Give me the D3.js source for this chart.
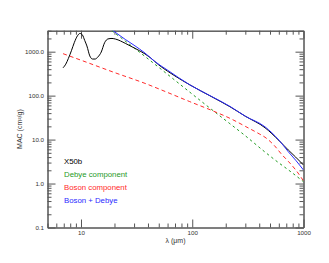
<!DOCTYPE html>
<html>
<head>
<meta charset="utf-8">
<script src="https://cdn.jsdelivr.net/npm/d3@7"></script>
<style>
  body { margin: 0; background: #fff; }
  svg { display: block; font-family: "Liberation Sans", Arial, sans-serif; }
  .axis path, .axis line { stroke: #555; }
  .axis text { fill: #333; font-size: 6.2px; }
</style>
</head>
<body>
<script>
// X50b measured curve
var lambdaX50b = [6.9, 7.3, 7.7, 8.2, 8.7, 9.3, 9.8, 10.3, 10.8, 11.3, 12.0, 12.7, 13.4, 14.2, 15.2, 16.3, 17.5, 19, 20.5, 25, 30, 37.6, 42, 50, 60, 70, 95, 150, 218, 300, 451, 600, 730, 850, 1000];
var macX50b = [430, 520, 700, 1050, 1600, 2300, 2600, 2400, 1800, 1350, 800, 680, 680, 760, 980, 1600, 1950, 2000, 1930, 1550, 1220, 890, 730, 500, 360, 280, 176, 94, 56, 34, 18.6, 9.6, 5.8, 4.0, 2.64];

// Debye component
var lambdaDebye = [18.9, 30, 50, 95, 150, 218, 300, 451, 600, 730, 1000];
var macDebye = [3000, 1220, 440, 120, 48, 23, 12.2, 5.2, 2.95, 2.05, 1.1];

// Boson component
var lambdaBoson = [6.9, 10, 20, 37.6, 60, 95, 150, 218, 300, 400, 451, 550, 637, 730, 850, 1000];
var macBoson = [900, 640, 335, 190, 118, 73, 46, 30.5, 20, 13.5, 11.3, 7.2, 4.6, 3.2, 2.05, 1.15];

// Boson + Debye
var lambdaSum = [18.5, 25, 30, 37.6, 46, 60, 95, 150, 218, 300, 451, 600, 730, 850, 1000];
var macSum = [3300, 1900, 1400, 930, 600, 380, 176, 95, 57, 34, 19.5, 9.8, 5.3, 3.4, 2.03];

var legendLabels = ['X50b', 'Debye component', 'Boson component', 'Boson + Debye'];
var legendColors = ['#000', '#1f9a1f', '#ff2a2a', '#2a2aff'];

var margin = {top: 30.7, right: 25.5, bottom: 35.5, left: 47.5},
    width = 329 - margin.left - margin.right,
    height = 263 - margin.top - margin.bottom;

var x = d3.scaleLog().domain([5, 1000]).range([0, width]);
var y = d3.scaleLog().domain([0.1, 3000]).range([height, 0]);

var svg = d3.select('body').append('svg')
    .attr('width', 329)
    .attr('height', 263)
  .append('g')
    .attr('transform', 'translate(' + margin.left + ',' + margin.top + ')');

svg.append('clipPath').attr('id', 'clip')
  .append('rect').attr('width', width).attr('height', height);

// major / minor tick values
var xMajor = [10, 100, 1000];
var xMinor = x.ticks().filter(function(d) { return xMajor.indexOf(d) < 0; });
var yMajor = [0.1, 1, 10, 100, 1000];
var yMinor = y.ticks().filter(function(d) {
  return yMajor.every(function(m) { return Math.abs(m - d) > 1e-9; });
});

function addAxis(axisFn, scale, values, size, labels, transform) {
  var a = axisFn(scale).tickValues(values).tickSizeInner(-size).tickSizeOuter(0).tickPadding(3.5);
  if (labels) a.tickFormat(labels); else a.tickFormat('');
  svg.append('g')
      .attr('class', 'axis')
      .attr('transform', transform || null)
      .call(a);
}

var fmtY = d3.format('.1f');
addAxis(d3.axisBottom, x, xMajor, 8, function(d) { return d; }, 'translate(0,' + height + ')');
addAxis(d3.axisBottom, x, xMinor, 4, null, 'translate(0,' + height + ')');
addAxis(d3.axisTop, x, xMajor, 8, null);
addAxis(d3.axisTop, x, xMinor, 4, null);
addAxis(d3.axisLeft, y, yMajor, 8, fmtY);
addAxis(d3.axisLeft, y, yMinor, 4, null);
addAxis(d3.axisRight, y, yMajor, 8, null, 'translate(' + width + ',0)');
addAxis(d3.axisRight, y, yMinor, 4, null, 'translate(' + width + ',0)');

// Axis titles
svg.append('text')
    .attr('x', width / 2)
    .attr('y', height + 15.5)
    .attr('text-anchor', 'middle')
    .attr('font-size', '7px')
    .attr('fill', '#333')
    .text('λ (μm)');

svg.append('text')
    .attr('transform', 'translate(-25.5,' + (height / 2) + ') rotate(-90)')
    .attr('text-anchor', 'middle')
    .attr('font-size', '7px')
    .attr('fill', '#333')
    .text('MAC (cm²/g)');

// Lines
function drawLine(xs, ys, color, dash, curve) {
  var pts = xs.map(function(d, i) { return [d, ys[i]]; });
  var line = d3.line()
      .x(function(d) { return x(d[0]); })
      .y(function(d) { return y(d[1]); })
      .curve(curve || d3.curveLinear);
  svg.append('path')
      .datum(pts)
      .attr('clip-path', 'url(#clip)')
      .attr('fill', 'none')
      .attr('stroke', color)
      .attr('stroke-width', 1)
      .attr('stroke-dasharray', dash || null)
      .attr('d', line);
}

drawLine(lambdaDebye, macDebye, legendColors[1], '2.5,3', d3.curveMonotoneX);
drawLine(lambdaBoson, macBoson, legendColors[2], '4,3', d3.curveMonotoneX);
drawLine(lambdaX50b, macX50b, legendColors[0], null, d3.curveMonotoneX);
drawLine(lambdaSum, macSum, legendColors[3], null, d3.curveMonotoneX);

// Legend
svg.selectAll('.legend')
    .data(legendLabels)
  .enter().append('text')
    .attr('class', 'legend')
    .attr('x', 16.5)
    .attr('y', function(d, i) { return 133 + i * 13; })
    .attr('font-size', '7.8px')
    .attr('fill', function(d, i) { return legendColors[i]; })
    .text(function(d) { return d; });
</script>
</body>
</html>
